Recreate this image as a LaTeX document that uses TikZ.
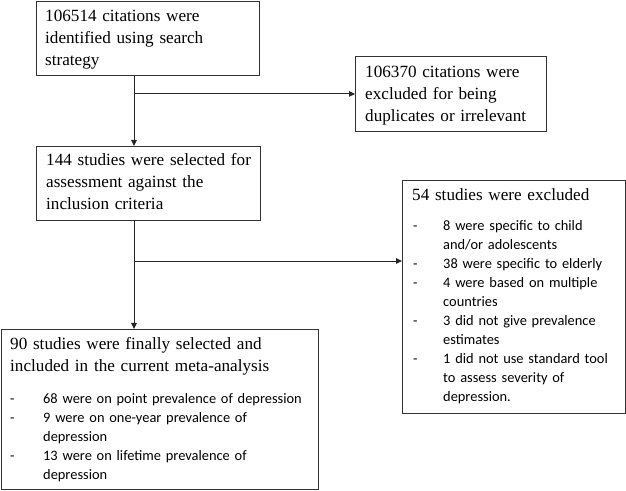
\documentclass[tikz,border=0pt]{standalone}
\usepackage{fontspec}
\setmainfont{Liberation Serif}
\newfontfamily\calfont{Carlito}
\usetikzlibrary{arrows.meta}
\begin{document}
\begin{tikzpicture}[x=1pt,y=1pt,
  box/.style={draw=black!80, line width=0.9pt, inner sep=0pt, anchor=north west},
  head/.style={anchor=base west, inner sep=0pt, align=left, text width=#1,
    font={\fontsize{17.15}{22}\selectfont}},
  items/.style={anchor=base west, inner sep=0pt, align=left, text width=#1,
    font={\calfont\fontsize{14.4}{19}\selectfont}},
  conn/.style={draw=black!85, line width=0.9pt},
  arr/.style={conn, -{Triangle[length=6pt,width=5.5pt]}}]
\useasboundingbox (0,0) rectangle (626,490);
% boxes
\node[box, minimum width=223pt, minimum height=74pt] (b1) at (36,489) {};
\node[box, minimum width=191pt, minimum height=75pt] (b2) at (355,434) {};
\node[box, minimum width=224pt, minimum height=74pt] (b3) at (36,344) {};
\node[box, minimum width=223pt, minimum height=233pt] (b4) at (402,310) {};
\node[box, minimum width=317pt, minimum height=160pt] (b5) at (1,161) {};
% texts
\node[head=210pt] (t1) at (45,468) {106514 citations were\\identified using search\\strategy};
\node[head=180pt] (t2) at (365,412) {106370 citations were\\excluded for being\\duplicates or irrelevant};
\node[head=210pt] (t3) at (46,324) {144 studies were selected for\\assessment against the\\inclusion criteria};
\node[head=210pt] (t4) at (412,289) {54 studies were excluded};
\node[items=205pt] (l4) at (413,259) {\makebox[30pt][l]{-}8 were specific to child\\
\hspace*{30pt}and/or adolescents\\
\makebox[30pt][l]{-}38 were specific to elderly\\
\makebox[30pt][l]{-}4 were based on multiple\\
\hspace*{30pt}countries\\
\makebox[30pt][l]{-}3 did not give prevalence\\
\hspace*{30pt}estimates\\
\makebox[30pt][l]{-}1 did not use standard tool\\
\hspace*{30pt}to assess severity of\\
\hspace*{30pt}depression.};
\node[head=300pt] (t5) at (10,140) {90 studies were finally selected and\\included in the current meta-analysis};
\node[items=300pt] (l5) at (10,87) {\makebox[33pt][l]{-}68 were on point prevalence of depression\\
\makebox[33pt][l]{-}9 were on one-year prevalence of\\
\hspace*{33pt}depression\\
\makebox[33pt][l]{-}13 were on lifetime prevalence of\\
\hspace*{33pt}depression};
% connectors
\coordinate (trunk) at (134,0);
\coordinate (br2) at (134,229);
\draw[arr] (b1.south -| trunk) -- (b3.north -| trunk);
\draw[arr] (b2.west -| trunk) -- (b2.west);
\draw[arr] (b3.south -| trunk) -- (b5.north -| trunk);
\draw[arr] (br2) -- (br2 -| b4.west);
\end{tikzpicture}
\end{document}
